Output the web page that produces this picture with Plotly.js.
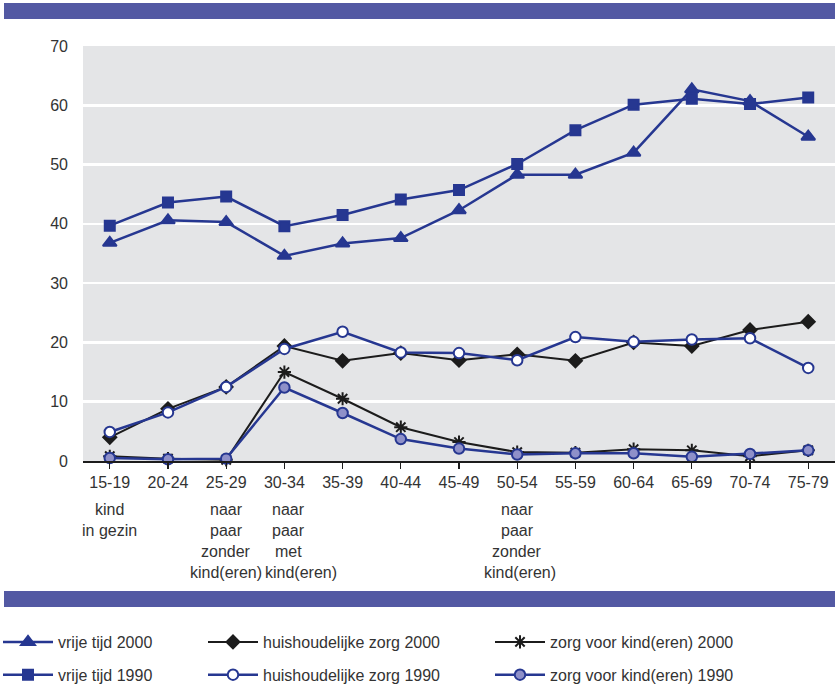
<!DOCTYPE html>
<html>
<head>
<meta charset="utf-8">
<script src="https://cdn.plot.ly/plotly-3.0.1.min.js"></script>
<style>html,body{margin:0;padding:0;background:#fff;}#chart{width:835px;height:688px;}</style>
</head>
<body>
<div id="chart"></div>
<script>
const ageGroups = ["15-19","20-24","25-29","30-34","35-39","40-44","45-49","50-54","55-59","60-64","65-69","70-74","75-79"];
const vrijeTijd2000 = [36.8,40.6,40.3,34.6,36.7,37.6,42.3,48.3,48.3,52.0,62.7,60.7,54.7];
const vrijeTijd1990 = [39.7,43.6,44.6,39.6,41.5,44.1,45.7,50.1,55.8,60.1,61.1,60.2,61.3];
const huishZorg2000 = [4.0,8.8,12.5,19.4,16.9,18.2,17.0,18.0,16.9,20.0,19.4,22.1,23.5];
const huishZorg1990 = [4.9,8.2,12.5,18.9,21.8,18.3,18.2,17.0,20.9,20.1,20.5,20.7,15.7];
const zorgKind2000 = [0.8,0.4,0.2,15.0,10.5,5.7,3.2,1.5,1.4,2.0,1.8,0.8,1.8];
const zorgKind1990 = [0.5,0.3,0.4,12.4,8.1,3.7,2.1,1.1,1.3,1.3,0.7,1.2,1.8];
const subLabelCats = ["15-19","25-29","30-34","50-54"];
const subLabelLines = [["kind","in gezin"],["naar","paar","zonder","kind(eren)"],["naar","paar","met","kind(eren)"],["naar","paar","zonder","kind(eren)"]];
const yTicks = [0,10,20,30,40,50,60,70];

const BLUE = "#263791", BLACK = "#1c1c1c", FILL = "#8e90c9";
const FONT = "Liberation Sans, Arial, sans-serif";
const FS = 16;
const PLOT_L = 83, PLOT_W = 752, PLOT_T = 46, PLOT_H = 415;
const px = x => (x - PLOT_L) / PLOT_W;
const py = y => (PLOT_T + PLOT_H - y) / PLOT_H;

function tr(name, y, color, symbol, size, mfill, mline, legend, lw) {
  return {x: ageGroups, y: y, name: name, type: "scatter", mode: "lines+markers",
    line: {color: color, width: lw || 2.5},
    marker: {symbol: symbol, size: size, color: mfill, line: {color: mline, width: 2}},
    legend: legend, legendgroup: name, cliponaxis: false};
}
const data = [
  tr("huishoudelijke zorg 2000", huishZorg2000, BLACK, "diamond", 10, BLACK, BLACK, "legend2", 2),
  tr("zorg voor kind(eren) 2000", zorgKind2000, BLACK, "asterisk-open", 11, BLACK, BLACK, "legend3", 2),
  tr("vrije tijd 2000", vrijeTijd2000, BLUE, "triangle-up", 12, BLUE, BLUE, "legend"),
  tr("vrije tijd 1990", vrijeTijd1990, BLUE, "square", 10, BLUE, BLUE, "legend"),
  tr("huishoudelijke zorg 1990", huishZorg1990, BLUE, "circle", 10.5, "#ffffff", BLUE, "legend2"),
  tr("zorg voor kind(eren) 1990", zorgKind1990, BLUE, "circle", 10.5, FILL, BLUE, "legend3")
];

const annotations = [];
subLabelCats.forEach((cat, ci) => {
  subLabelLines[ci].forEach((txt, li) => {
    const last = li === subLabelLines[ci].length - 1;
    let shift = 0;
    if (cat === "30-34") shift = last ? 17 : 4;
    if (cat === "50-54" && last) shift = 3;
    annotations.push({xref: "x", yref: "paper", x: cat, y: py(509 + li * 21), yanchor: "middle", xanchor: "center",
      xshift: shift, text: txt, showarrow: false,
      font: {family: FONT, size: FS, color: "#333"}});
  });
});

const legFont = {family: FONT, size: FS, color: "#333"};
function leg(xp) {
  return {x: px(xp), y: py(625), xanchor: "left", yanchor: "top", orientation: "v",
    font: legFont, bgcolor: "rgba(0,0,0,0)", itemwidth: 50, tracegroupgap: 9};
}

const layout = {
  width: 835, height: 688,
  margin: {l: PLOT_L, r: 0, t: PLOT_T, b: 688 - PLOT_T - PLOT_H, pad: 0, autoexpand: false},
  paper_bgcolor: "#ffffff", plot_bgcolor: "#e4e5e7",
  font: {family: FONT, size: FS, color: "#333"},
  showlegend: true,
  xaxis: {type: "category", range: [-0.46, 12.46], showgrid: false, zeroline: false,
    showline: true, linecolor: "#1c1c1c", linewidth: 1.5,
    ticks: "outside", ticklen: 6, tickwidth: 1.2, tickcolor: "#1c1c1c", ticklabelstandoff: 1.5,
    tickfont: {family: FONT, size: FS, color: "#333"}, fixedrange: true},
  yaxis: {range: [0, 70], tickvals: yTicks, showgrid: true, gridcolor: "#ffffff", gridwidth: 2.5,
    zeroline: false, showline: false, ticks: "", ticklabelstandoff: 14,
    tickfont: {family: FONT, size: FS, color: "#333"}, fixedrange: true},
  legend: leg(-2),
  legend2: leg(203),
  legend3: leg(490),
  annotations: annotations,
  shapes: [
    {type: "rect", xref: "paper", yref: "paper", x0: px(4), x1: 1, y0: py(19), y1: py(3), fillcolor: "#5359a3", line: {width: 0}, layer: "below"},
    {type: "rect", xref: "paper", yref: "paper", x0: px(4), x1: 1, y0: py(607), y1: py(591), fillcolor: "#5359a3", line: {width: 0}, layer: "below"}
  ]
};

Plotly.newPlot("chart", data, layout, {displayModeBar: false, staticPlot: true});
</script>
</body>
</html>
